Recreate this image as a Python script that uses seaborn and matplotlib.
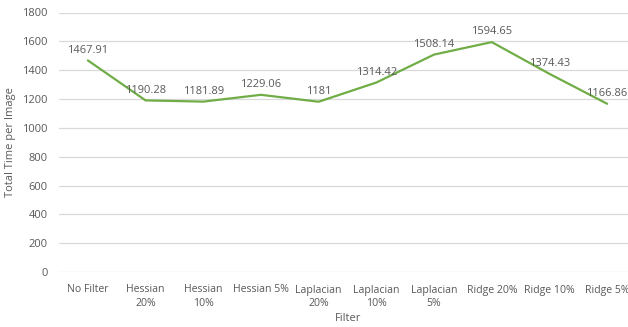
import matplotlib
matplotlib.use("Agg")
import matplotlib.pyplot as plt
import seaborn as sns
import pandas as pd

filters = ["No Filter", "Hessian\n20%", "Hessian\n10%", "Hessian 5%", "Laplacian\n20%",
           "Laplacian\n10%", "Laplacian\n5%", "Ridge 20%", "Ridge 10%", "Ridge 5%"]
times = [1467.91, 1190.28, 1181.89, 1229.06, 1181, 1314.42, 1508.14, 1594.65, 1374.43, 1166.86]
value_labels = ["1467.91", "1190.28", "1181.89", "1229.06", "1181", "1314.42",
                "1508.14", "1594.65", "1374.43", "1166.86"]
y_ticks = [0, 200, 400, 600, 800, 1000, 1200, 1400, 1600, 1800]

sns.set_theme(style="white")
plt.rcParams["font.family"] = ["Open Sans", "DejaVu Sans"]

text_color = "#595959"
grid_color = "#d9d9d9"
line_color = "#70ad47"

df = pd.DataFrame({"Filter": range(len(filters)), "Time": times})

fig = plt.figure(figsize=(6.28, 3.27), dpi=100)
ax = fig.add_axes([59 / 628, 55 / 327, 577 / 628, 259.5 / 327])

sns.lineplot(data=df, x="Filter", y="Time", ax=ax, color=line_color, linewidth=1.6)

ax.set_xlim(-0.5, len(filters) - 0.5)
ax.set_ylim(0, 1800)
ax.set_yticks(y_ticks)
ax.set_yticklabels([str(v) for v in y_ticks], fontsize=8, color=text_color)
ax.set_xticks(range(len(filters)))
ax.set_xticklabels(filters, fontsize=7.6, color=text_color, linespacing=1.35)
ax.tick_params(axis="both", length=0)
ax.tick_params(axis="x", pad=9)
ax.tick_params(axis="y", pad=8)
ax.grid(axis="y", color=grid_color, linewidth=0.9)
ax.set_axisbelow(True)
for s in ax.spines.values():
    s.set_visible(False)

for i, (v, lab) in enumerate(zip(times, value_labels)):
    ax.annotate(lab, (i, v), xytext=(0, 3.5), textcoords="offset points",
                ha="center", va="bottom", fontsize=8, color=text_color)

ax.set_xlabel("Filter", fontsize=8, color=text_color)
ax.set_ylabel("Total Time per Image", fontsize=8, color=text_color)
ax.xaxis.set_label_coords((348 - 59) / 577, -41 / 259.5)
ax.yaxis.set_label_coords((16 - 59) / 577, 0.5)

fig.savefig("out.png", dpi=100)
